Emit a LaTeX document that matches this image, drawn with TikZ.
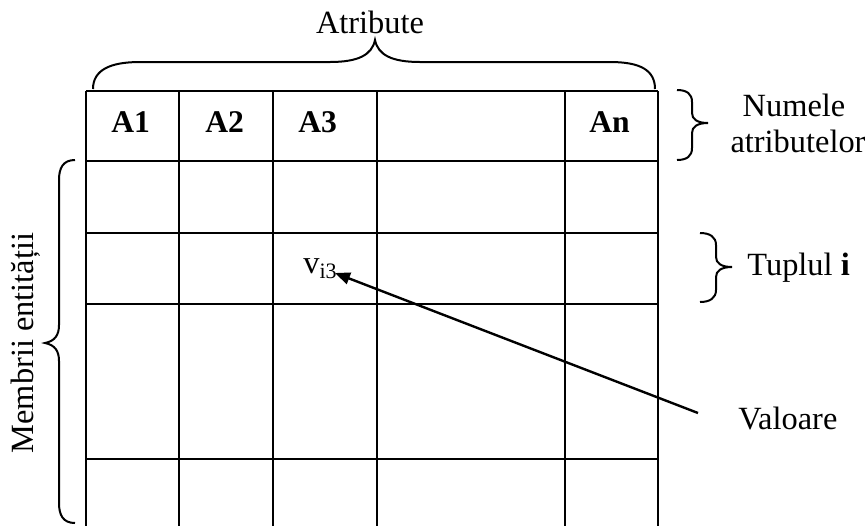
\documentclass[tikz,border=0pt]{standalone}
\usepackage{fontspec}
\setmainfont{Liberation Serif}
\usetikzlibrary{arrows.meta}
\begin{document}
\begin{tikzpicture}[x=0.5pt,y=-0.5pt,
  grid/.style={line width=1pt,black},
  bracepath/.style={line width=1pt,black},
  lbl/.style={inner sep=0pt,font=\fontsize{16.2}{19}\selectfont},
  hdr/.style={lbl,font=\fontsize{15.8}{19}\selectfont\bfseries,anchor=base west},
  arrowline/.style={line width=1.2pt,-{Triangle[length=7.5pt,width=6pt]}}]
\useasboundingbox (0,0) rectangle (867,526);
% table grid
\foreach \yy in {91,161,233,304,459}{\draw[grid] (86,\yy) -- (658,\yy);}
\foreach \xx in {86,179,273,377,565,658}{\draw[grid] (\xx,91) -- (\xx,526);}
% header labels
\node[hdr] (a1) at (111,132) {A1};
\node[hdr] (a2) at (205,132) {A2};
\node[hdr] (a3) at (298,132) {A3};
\node[hdr] (an) at (589,132) {An};
% top brace
\draw[bracepath] (93,89) .. controls (93,70) and (110,62) .. (140,62) -- (330,62)
  .. controls (358,62) and (372,55) .. (375,40)
  .. controls (378,55) and (392,62) .. (420,62) -- (610,62)
  .. controls (640,62) and (655,70) .. (655,89);
\node[lbl,anchor=base] (atr) at (370,33) {Atribute};
% left brace
\draw[bracepath] (75,160) .. controls (63,160) and (59,168) .. (59,180) -- (59,325)
  .. controls (59,335) and (55,341) .. (45,343)
  .. controls (55,345) and (59,351) .. (59,361) -- (59,503)
  .. controls (59,515) and (63,523) .. (75,523);
\node[lbl,anchor=base,rotate=90] (memb) at (33,343) {Membrii entității};
% right brace header
\draw[bracepath] (677,90) .. controls (687,90) and (692,94) .. (692,102) -- (692,113)
  .. controls (692,119) and (697,123) .. (708,123)
  .. controls (697,123) and (692,127) .. (692,133) -- (692,148)
  .. controls (692,156) and (687,160) .. (677,160);
\node[lbl,anchor=base] (num1) at (794,116) {Numele};
\node[lbl,anchor=base] (num2) at (798,152) {atributelor};
% tuple brace
\draw[bracepath] (700,233) .. controls (710,233) and (716,237) .. (716,245) -- (716,257)
  .. controls (716,263) and (721,267) .. (732,267)
  .. controls (721,267) and (716,271) .. (716,277) -- (716,290)
  .. controls (716,298) and (710,302) .. (700,302);
\node[lbl,anchor=base west] (tup) at (747,275) {Tuplul \textbf{i}};
% value
\node[lbl,anchor=base west] (vi3) at (303,273) {v\raisebox{-2.5pt}{\fontsize{11}{12}\selectfont i3}};
\node[lbl,anchor=base west] (val) at (738,429) {Valoare};
\coordinate (tail) at (698,413);
\coordinate (head) at (335,273);
\draw[arrowline] (tail) -- (head);
\end{tikzpicture}
\end{document}
